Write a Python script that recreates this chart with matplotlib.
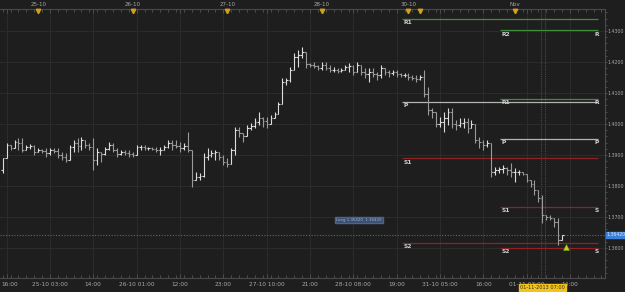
import matplotlib
matplotlib.use("Agg")
import matplotlib.pyplot as plt
import matplotlib.transforms as mtransforms
from matplotlib.ticker import MultipleLocator

# ---------------- data ----------------
opens = [
    1.3852, 1.3890, 1.3932, 1.3923, 1.3942, 1.3939, 1.3916, 1.3926, 1.3929, 1.3910,
    1.3916, 1.3913, 1.3906, 1.3916, 1.3913, 1.3900, 1.3894, 1.3884, 1.3926, 1.3939,
    1.3929, 1.3948, 1.3932, 1.3926, 1.3884, 1.3910, 1.3903, 1.3919, 1.3932, 1.3916,
    1.3903, 1.3910, 1.3906, 1.3903, 1.3900, 1.3926, 1.3926, 1.3923, 1.3923, 1.3919,
    1.3916, 1.3916, 1.3926, 1.3939, 1.3932, 1.3929, 1.3923, 1.3929, 1.3916, 1.3819,
    1.3829, 1.3832, 1.3894, 1.3900, 1.3906, 1.3910, 1.3894, 1.3877, 1.3871, 1.3916,
    1.3981, 1.3971, 1.3961, 1.3987, 1.3994, 1.4006, 1.4019, 1.4010, 1.4000, 1.4019,
    1.4032, 1.4065, 1.4135, 1.4142, 1.4174, 1.4216, 1.4223, 1.4232, 1.4194, 1.4190,
    1.4187, 1.4181, 1.4190, 1.4181, 1.4174, 1.4174, 1.4171, 1.4174, 1.4184, 1.4187,
    1.4168, 1.4190, 1.4168, 1.4161, 1.4168, 1.4161, 1.4158, 1.4181, 1.4168, 1.4165,
    1.4168, 1.4161, 1.4158, 1.4158, 1.4152, 1.4148, 1.4145, 1.4152, 1.4097, 1.4045,
    1.4039, 1.4000, 1.4006, 1.4019, 1.4039, 1.4000, 1.3997, 1.4003, 1.4006, 1.3987,
    1.4000, 1.3948, 1.3942, 1.3932, 1.3939, 1.3845, 1.3852, 1.3855, 1.3858, 1.3852,
    1.3845, 1.3845, 1.3845, 1.3839, 1.3819, 1.3806, 1.3787, 1.3761, 1.3706, 1.3700,
    1.3697, 1.3684, 1.3626,
]
highs = [
    1.3890, 1.3939, 1.3932, 1.3948, 1.3955, 1.3955, 1.3932, 1.3935, 1.3932, 1.3923,
    1.3919, 1.3923, 1.3923, 1.3923, 1.3923, 1.3910, 1.3906, 1.3932, 1.3948, 1.3955,
    1.3958, 1.3948, 1.3939, 1.3955, 1.3923, 1.3910, 1.3926, 1.3942, 1.3939, 1.3923,
    1.3916, 1.3916, 1.3916, 1.3910, 1.3932, 1.3932, 1.3932, 1.3926, 1.3926, 1.3926,
    1.3926, 1.3932, 1.3948, 1.3948, 1.3948, 1.3942, 1.3939, 1.3974, 1.3916, 1.3845,
    1.3842, 1.3906, 1.3923, 1.3916, 1.3916, 1.3910, 1.3900, 1.3890, 1.3923, 1.3990,
    1.3990, 1.3971, 1.3997, 1.4003, 1.4019, 1.4039, 1.4023, 1.4023, 1.4029, 1.4039,
    1.4071, 1.4148, 1.4148, 1.4184, 1.4229, 1.4239, 1.4248, 1.4232, 1.4197, 1.4200,
    1.4190, 1.4200, 1.4200, 1.4190, 1.4184, 1.4181, 1.4181, 1.4190, 1.4197, 1.4190,
    1.4200, 1.4190, 1.4181, 1.4181, 1.4181, 1.4168, 1.4190, 1.4181, 1.4174, 1.4174,
    1.4174, 1.4165, 1.4165, 1.4165, 1.4158, 1.4158, 1.4158, 1.4174, 1.4119, 1.4052,
    1.4039, 1.4023, 1.4039, 1.4052, 1.4052, 1.4013, 1.4019, 1.4019, 1.4019, 1.4013,
    1.4000, 1.3958, 1.3948, 1.3948, 1.3939, 1.3861, 1.3861, 1.3868, 1.3861, 1.3874,
    1.3858, 1.3852, 1.3845, 1.3839, 1.3819, 1.3819, 1.3787, 1.3771, 1.3706, 1.3706,
    1.3697, 1.3697, 1.3642,
]
lows = [
    1.3842, 1.3890, 1.3916, 1.3923, 1.3916, 1.3910, 1.3916, 1.3919, 1.3900, 1.3910,
    1.3906, 1.3894, 1.3900, 1.3906, 1.3890, 1.3884, 1.3877, 1.3884, 1.3910, 1.3910,
    1.3916, 1.3923, 1.3916, 1.3852, 1.3868, 1.3877, 1.3900, 1.3916, 1.3910, 1.3894,
    1.3900, 1.3900, 1.3894, 1.3894, 1.3900, 1.3916, 1.3916, 1.3916, 1.3916, 1.3910,
    1.3900, 1.3916, 1.3923, 1.3916, 1.3923, 1.3910, 1.3916, 1.3910, 1.3797, 1.3819,
    1.3819, 1.3829, 1.3884, 1.3894, 1.3884, 1.3884, 1.3868, 1.3861, 1.3871, 1.3900,
    1.3958, 1.3942, 1.3961, 1.3981, 1.3987, 1.3997, 1.3990, 1.3987, 1.4000, 1.4019,
    1.4032, 1.4065, 1.4126, 1.4135, 1.4174, 1.4184, 1.4213, 1.4181, 1.4184, 1.4181,
    1.4174, 1.4174, 1.4174, 1.4168, 1.4168, 1.4165, 1.4168, 1.4174, 1.4168, 1.4158,
    1.4168, 1.4158, 1.4148, 1.4135, 1.4152, 1.4142, 1.4148, 1.4158, 1.4152, 1.4158,
    1.4152, 1.4152, 1.4152, 1.4142, 1.4142, 1.4135, 1.4142, 1.4087, 1.4029, 1.4019,
    1.3990, 1.3990, 1.3974, 1.3997, 1.3987, 1.3981, 1.3990, 1.3987, 1.3971, 1.3987,
    1.3939, 1.3923, 1.3916, 1.3926, 1.3829, 1.3835, 1.3842, 1.3842, 1.3835, 1.3829,
    1.3813, 1.3835, 1.3835, 1.3813, 1.3797, 1.3771, 1.3748, 1.3681, 1.3690, 1.3690,
    1.3668, 1.3610, 1.3626,
]
closes = [
    1.3890, 1.3932, 1.3923, 1.3942, 1.3939, 1.3916, 1.3926, 1.3929, 1.3910, 1.3916,
    1.3913, 1.3906, 1.3916, 1.3913, 1.3900, 1.3894, 1.3884, 1.3926, 1.3939, 1.3929,
    1.3948, 1.3932, 1.3926, 1.3884, 1.3910, 1.3903, 1.3919, 1.3932, 1.3916, 1.3903,
    1.3910, 1.3906, 1.3903, 1.3900, 1.3926, 1.3926, 1.3923, 1.3923, 1.3919, 1.3916,
    1.3916, 1.3926, 1.3939, 1.3932, 1.3929, 1.3923, 1.3929, 1.3916, 1.3819, 1.3829,
    1.3832, 1.3894, 1.3900, 1.3906, 1.3910, 1.3894, 1.3877, 1.3871, 1.3916, 1.3981,
    1.3971, 1.3961, 1.3987, 1.3994, 1.4006, 1.4019, 1.4010, 1.4000, 1.4019, 1.4032,
    1.4065, 1.4135, 1.4142, 1.4174, 1.4216, 1.4223, 1.4232, 1.4194, 1.4190, 1.4187,
    1.4181, 1.4190, 1.4181, 1.4174, 1.4174, 1.4171, 1.4174, 1.4184, 1.4187, 1.4168,
    1.4190, 1.4168, 1.4161, 1.4168, 1.4161, 1.4158, 1.4181, 1.4168, 1.4165, 1.4168,
    1.4161, 1.4158, 1.4158, 1.4152, 1.4148, 1.4145, 1.4152, 1.4097, 1.4045, 1.4039,
    1.4000, 1.4006, 1.4019, 1.4039, 1.4000, 1.3997, 1.4003, 1.4006, 1.3987, 1.4000,
    1.3948, 1.3942, 1.3932, 1.3939, 1.3845, 1.3852, 1.3855, 1.3858, 1.3852, 1.3845,
    1.3845, 1.3845, 1.3839, 1.3819, 1.3806, 1.3787, 1.3761, 1.3706, 1.3700, 1.3697,
    1.3684, 1.3626, 1.3642,
]

bottom_labels = ["16:00", "25-10 03:00", "14:00", "26-10 01:00", "12:00", "23:00",
                 "27-10 10:00", "21:00", "28-10 08:00", "19:00", "31-10 05:00",
                 "16:00", "01-11 03:00", "14:00"]
bottom_label_bars = [1, 12, 23, 34, 45, 56, 67, 78, 89, 100, 111, 122, 133, 144]

top_labels = ["25-10", "26-10", "27-10", "28-10", "30-10", "Nov"]
top_label_bars = [9, 33, 57, 81, 103, 130]
top_marker_bars = [9, 33, 57, 81, 103, 106, 130]

price_ticks = [1.36, 1.37, 1.38, 1.39, 1.40, 1.41, 1.42, 1.43]
price_tick_labels = ["1.3600", "1.3700", "1.3800", "1.3900", "1.4000", "1.4100", "1.4200", "1.4300"]

# pivot levels: price, start bar, end bar, kind, left label, right label
pivot_prices = [1.4340, 1.4302, 1.4081, 1.4071, 1.3952, 1.3889, 1.3732, 1.3616, 1.3600]
pivot_start = [101.4, 126.2, 126.2, 101.4, 126.2, 101.4, 126.2, 101.4, 126.2]
pivot_end = [151.1, 151.1, 151.1, 151.1, 151.1, 151.1, 151.1, 151.1, 151.1]
pivot_kind = ["R", "R", "R", "P", "P", "S", "S", "S", "S"]
pivot_left = ["R1", "R2", "R1", "P", "P", "S1", "S1", "S2", "S2"]
pivot_right = ["", "R", "R", "", "P", "", "S", "", "S"]

current_price = 1.3642
current_label = "1.36420"
cursor_bar = 137.1
cursor_label = "01-11-2013 07:00"
signal_bar = 143
signal_price = 1.3603

# ---------------- style ----------------
BG = "#1e1e1e"
GRID = "#2c2c2c"
TXT = "#a8a8a8"
kind_color = {"R": "#3e8e3e", "P": "#b4b4b4", "S": "#8e2323"}

fig = plt.figure(figsize=(6.25, 2.92), dpi=100, facecolor=BG)
W, H = 625, 292
ax = fig.add_axes([0, 14 / H, 605 / W, 269 / H], facecolor=BG)
ax.set_xlim(-0.69, 152.9)
ax.set_ylim(1.3503, 1.4371)

# grid and axes
ax.set_xticks(bottom_label_bars)
ax.set_xticklabels(bottom_labels)
ax.xaxis.set_minor_locator(MultipleLocator(2))
ax.set_yticks(price_ticks)
ax.set_yticklabels(price_tick_labels)
ax.yaxis.set_minor_locator(MultipleLocator(0.002))
ax.yaxis.tick_right()
ax.grid(True, which="major", color=GRID, lw=0.7)
ax.tick_params(axis="x", which="both", direction="in", colors="#555555",
               labelcolor=TXT, labelsize=4.2, pad=3, length=3, width=0.6, top=True)
ax.tick_params(axis="x", which="minor", length=2)
ax.tick_params(axis="y", which="both", direction="out", colors="#555555",
               labelcolor=TXT, labelsize=3.4, pad=0.6, length=1.5, width=0.6)
ax.spines["left"].set_visible(False)
for side in ["top", "bottom", "right"]:
    ax.spines[side].set_color("#4a4a4a")
    ax.spines[side].set_linewidth(0.8)
first_lbl = ax.get_xticklabels()[0]
first_lbl.set_horizontalalignment("left")
first_lbl.set_transform(first_lbl.get_transform() + mtransforms.ScaledTranslation(-5 / 100, 0, fig.dpi_scale_trans))

# OHLC bars
tw = 0.42
for i in range(len(closes)):
    col = "#dcdcdc" if closes[i] >= opens[i] else "#9a9a9a"
    ax.vlines(i, lows[i], highs[i], color=col, lw=0.8, zorder=3)
    ax.hlines(opens[i], i - tw, i, color=col, lw=0.8, zorder=3)
    ax.hlines(closes[i], i, i + tw, color=col, lw=0.8, zorder=3)

# pivot lines and labels
for p, s, e, k, ll, rl in zip(pivot_prices, pivot_start, pivot_end, pivot_kind, pivot_left, pivot_right):
    ax.hlines(p, s, e, color=kind_color[k], lw=0.9, zorder=2)
    ax.annotate(ll, (s, p), xytext=(1, -1), textcoords="offset points",
                ha="left", va="top", fontsize=4.3, color="#d0d0d0", fontweight="bold", zorder=4)
    if rl:
        ax.annotate(rl, (e, p), xytext=(1, -1), textcoords="offset points",
                    ha="right", va="top", fontsize=4.3, color="#d0d0d0", fontweight="bold", zorder=4)

# 1.36 full-width dark red dotted line
ax.axhline(pivot_prices[-1], color="#6e1c1c", lw=0.7, ls=(0, (1, 1)), zorder=1)

# current price dotted line and label
ax.axhline(current_price, color="#3a6fb5", lw=0.8, ls=(0, (1, 1.5)), zorder=2)
blend_y = mtransforms.blended_transform_factory(ax.transAxes, ax.transData)
ax.text(1.003, current_price, current_label, transform=blend_y, fontsize=3.3,
        color="#dbe9ff", ha="left", va="center", clip_on=False, zorder=6,
        bbox=dict(boxstyle="square,pad=0.2", fc="#3b80d8", ec="#3b80d8"))

# cursor lines
ax.axvline(cursor_bar - 0.5, color="#5a5a5a", lw=0.6, ls=(0, (1, 1.2)), zorder=1)
ax.axvline(cursor_bar + 0.5, color="#5a5a5a", lw=0.6, ls=(0, (1, 1.2)), zorder=1)
blend_x = mtransforms.blended_transform_factory(ax.transData, ax.transAxes)
ax.text(cursor_bar, -0.037, cursor_label, transform=blend_x, fontsize=3.6,
        color="#303030", ha="center", va="center", clip_on=False, zorder=7,
        bbox=dict(boxstyle="square,pad=0.2", fc="#f2c31b", ec="#f2c31b"))

# small tooltip box
ax.text(90.5, 1.3690, "Long 1.36420  1.36420", fontsize=2.8, color="#9ab4d8",
        ha="center", va="center", zorder=5,
        bbox=dict(boxstyle="square,pad=0.35", fc="#3c4f6e", ec="#4a6490"))

# signal arrow
ax.plot([signal_bar], [signal_price], marker="^", color="#b8d82a", ms=4.5, zorder=6,
        clip_on=False, mec="#7a9a10", mew=0.4)

# top date labels and markers
for b, t in zip(top_label_bars, top_labels):
    ax.text(b, 1.017, t, transform=blend_x, fontsize=4.0, color=TXT,
            ha="center", va="center", clip_on=False)
ax.plot(top_marker_bars, [0.991] * len(top_marker_bars), "v", color="#d4a017",
        ms=3.2, transform=blend_x, clip_on=False, zorder=6)

fig.savefig("out.png", dpi=100, facecolor=BG)
